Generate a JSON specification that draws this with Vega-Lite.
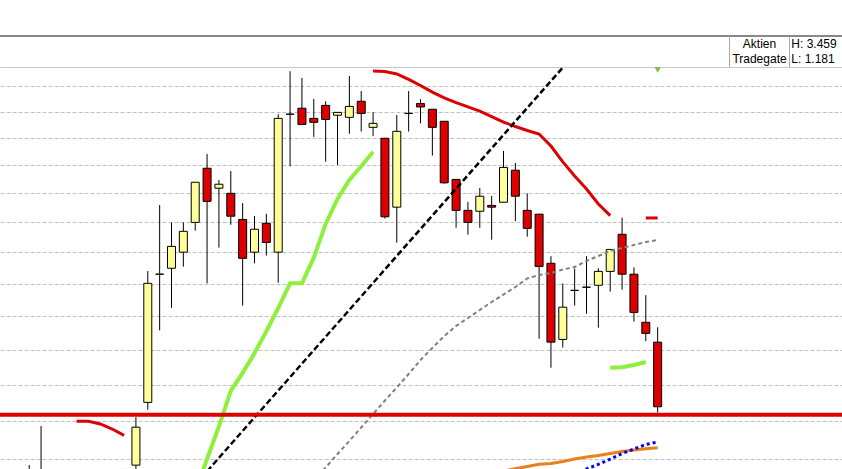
{
  "$schema": "https://vega.github.io/schema/vega-lite/v6.json",
  "background": "white",
  "padding": {"top": 35, "left": 0, "right": 0, "bottom": 0},
  "spacing": 0,
  "bounds": "flush",
  "config": {"view": {"stroke": null}, "font": "Liberation Sans"},
  "datasets": {
    "header": [
      {"row": 1, "src": "Aktien", "rng": "H: 3.459"},
      {"row": 2, "src": "Tradegate", "rng": "L: 1.181"}
    ],
    "candles": [
      {"k":0,"open":2.165,"high":2.185,"low":2.14,"close":2.155},
      {"k":1,"open":2.150,"high":2.287,"low":2.13,"close":2.165},
      {"k":8,"open":2.174,"high":2.174,"low":2.12,"close":2.15},
      {"k":9,"open":2.185,"high":2.311,"low":2.16,"close":2.284},
      {"k":10,"open":2.351,"high":2.740,"low":2.331,"close":2.701},
      {"k":11,"open":2.730,"high":2.959,"low":2.557,"close":2.730},
      {"k":12,"open":2.749,"high":2.900,"low":2.625,"close":2.820},
      {"k":13,"open":2.801,"high":2.900,"low":2.754,"close":2.870},
      {"k":14,"open":2.900,"high":3.039,"low":2.872,"close":3.039},
      {"k":15,"open":3.089,"high":3.141,"low":2.701,"close":2.972},
      {"k":16,"open":3.018,"high":3.047,"low":2.816,"close":3.032},
      {"k":17,"open":3.000,"high":3.079,"low":2.892,"close":2.921},
      {"k":18,"open":2.910,"high":2.966,"low":2.632,"close":2.781},
      {"k":19,"open":2.801,"high":2.922,"low":2.765,"close":2.877},
      {"k":20,"open":2.897,"high":2.929,"low":2.790,"close":2.833},
      {"k":21,"open":2.801,"high":3.290,"low":2.703,"close":3.274},
      {"k":22,"open":3.290,"high":3.459,"low":3.096,"close":3.290},
      {"k":23,"open":3.313,"high":3.432,"low":3.251,"close":3.251},
      {"k":24,"open":3.274,"high":3.349,"low":3.204,"close":3.259},
      {"k":25,"open":3.324,"high":3.340,"low":3.113,"close":3.270},
      {"k":26,"open":3.286,"high":3.297,"low":3.101,"close":3.297},
      {"k":27,"open":3.278,"high":3.440,"low":3.216,"close":3.320},
      {"k":28,"open":3.340,"high":3.380,"low":3.224,"close":3.293},
      {"k":29,"open":3.240,"high":3.298,"low":3.207,"close":3.255},
      {"k":30,"open":3.199,"high":3.199,"low":2.913,"close":2.919},
      {"k":31,"open":2.952,"high":3.287,"low":2.832,"close":3.225},
      {"k":32,"open":3.293,"high":3.380,"low":3.224,"close":3.293},
      {"k":33,"open":3.331,"high":3.348,"low":3.255,"close":3.318},
      {"k":34,"open":3.309,"high":3.309,"low":3.135,"close":3.240},
      {"k":35,"open":3.263,"high":3.263,"low":3.034,"close":3.037},
      {"k":36,"open":3.049,"high":3.049,"low":2.882,"close":2.941},
      {"k":37,"open":2.941,"high":2.970,"low":2.859,"close":2.900},
      {"k":38,"open":2.938,"high":3.019,"low":2.882,"close":2.990},
      {"k":39,"open":2.958,"high":2.991,"low":2.842,"close":2.952},
      {"k":40,"open":2.969,"high":3.152,"low":2.969,"close":3.092},
      {"k":41,"open":3.082,"high":3.108,"low":2.904,"close":2.990},
      {"k":42,"open":2.941,"high":3.000,"low":2.852,"close":2.880},
      {"k":43,"open":2.928,"high":2.928,"low":2.532,"close":2.755},
      {"k":44,"open":2.765,"high":2.788,"low":2.448,"close":2.522},
      {"k":45,"open":2.530,"high":2.701,"low":2.506,"close":2.627},
      {"k":46,"open":2.679,"high":2.748,"low":2.632,"close":2.679},
      {"k":47,"open":2.689,"high":2.788,"low":2.607,"close":2.689},
      {"k":48,"open":2.695,"high":2.749,"low":2.565,"close":2.739},
      {"k":49,"open":2.739,"high":2.810,"low":2.675,"close":2.810},
      {"k":50,"open":2.860,"high":2.916,"low":2.681,"close":2.730},
      {"k":51,"open":2.730,"high":2.752,"low":2.583,"close":2.611},
      {"k":52,"open":2.581,"high":2.664,"low":2.525,"close":2.548},
      {"k":53,"open":2.522,"high":2.566,"low":2.323,"close":2.339}
    ],
    "lines": [
      {"s":"red","seg":"a","k":4,"p":2.2997},
      {"s":"red","seg":"a","k":5,"p":2.2997},
      {"s":"red","seg":"a","k":6,"p":2.2925},
      {"s":"red","seg":"a","k":7,"p":2.2791},
      {"s":"red","seg":"a","k":8,"p":2.2624},
      {"s":"red","seg":"b","k":29,"p":3.460},
      {"s":"red","seg":"b","k":30,"p":3.458},
      {"s":"red","seg":"b","k":31,"p":3.448},
      {"s":"red","seg":"b","k":32,"p":3.426},
      {"s":"red","seg":"b","k":33,"p":3.402},
      {"s":"red","seg":"b","k":34,"p":3.376},
      {"s":"red","seg":"b","k":35,"p":3.353},
      {"s":"red","seg":"b","k":36,"p":3.335},
      {"s":"red","seg":"b","k":37,"p":3.318},
      {"s":"red","seg":"b","k":38,"p":3.302},
      {"s":"red","seg":"b","k":39,"p":3.281},
      {"s":"red","seg":"b","k":40,"p":3.260},
      {"s":"red","seg":"b","k":41,"p":3.243},
      {"s":"red","seg":"b","k":42,"p":3.228},
      {"s":"red","seg":"b","k":43,"p":3.215},
      {"s":"red","seg":"b","k":44,"p":3.170},
      {"s":"red","seg":"b","k":45,"p":3.112},
      {"s":"red","seg":"b","k":46,"p":3.061},
      {"s":"red","seg":"b","k":47,"p":3.015},
      {"s":"red","seg":"b","k":48,"p":2.963},
      {"s":"red","seg":"b","k":49,"p":2.923},
      {"s":"red","seg":"c","k":52,"p":2.915},
      {"s":"red","seg":"c","k":53,"p":2.915},
      {"s":"green","seg":"a","k":14,"p":2.118},
      {"s":"green","seg":"a","k":15,"p":2.2006},
      {"s":"green","seg":"a","k":16,"p":2.2860},
      {"s":"green","seg":"a","k":17,"p":2.3824},
      {"s":"green","seg":"a","k":18,"p":2.4332},
      {"s":"green","seg":"a","k":19,"p":2.4895},
      {"s":"green","seg":"a","k":20,"p":2.5544},
      {"s":"green","seg":"a","k":21,"p":2.6245},
      {"s":"green","seg":"a","k":22,"p":2.701},
      {"s":"green","seg":"a","k":23,"p":2.701},
      {"s":"green","seg":"a","k":24,"p":2.7830},
      {"s":"green","seg":"a","k":25,"p":2.8949},
      {"s":"green","seg":"a","k":26,"p":2.9802},
      {"s":"green","seg":"a","k":27,"p":3.0470},
      {"s":"green","seg":"a","k":28,"p":3.0964},
      {"s":"green","seg":"a","k":29,"p":3.1492},
      {"s":"green","seg":"b","k":49,"p":2.448},
      {"s":"green","seg":"b","k":50,"p":2.4491},
      {"s":"green","seg":"b","k":51,"p":2.4557},
      {"s":"green","seg":"b","k":52,"p":2.4643},
      {"s":"gray","seg":"a","k":24,"p":2.1450},
      {"s":"gray","seg":"a","k":25,"p":2.1790},
      {"s":"gray","seg":"a","k":26,"p":2.2136},
      {"s":"gray","seg":"a","k":27,"p":2.2474},
      {"s":"gray","seg":"a","k":28,"p":2.2831},
      {"s":"gray","seg":"a","k":29,"p":2.3193},
      {"s":"gray","seg":"a","k":30,"p":2.3561},
      {"s":"gray","seg":"a","k":31,"p":2.3921},
      {"s":"gray","seg":"a","k":32,"p":2.4301},
      {"s":"gray","seg":"a","k":33,"p":2.4701},
      {"s":"gray","seg":"a","k":34,"p":2.5049},
      {"s":"gray","seg":"a","k":35,"p":2.5402},
      {"s":"gray","seg":"a","k":36,"p":2.5700},
      {"s":"gray","seg":"a","k":37,"p":2.5941},
      {"s":"gray","seg":"a","k":38,"p":2.6184},
      {"s":"gray","seg":"a","k":39,"p":2.6429},
      {"s":"gray","seg":"a","k":40,"p":2.6661},
      {"s":"gray","seg":"a","k":41,"p":2.6896},
      {"s":"gray","seg":"a","k":42,"p":2.7164},
      {"s":"gray","seg":"a","k":43,"p":2.7275},
      {"s":"gray","seg":"a","k":44,"p":2.7338},
      {"s":"gray","seg":"a","k":45,"p":2.7450},
      {"s":"gray","seg":"a","k":46,"p":2.7530},
      {"s":"gray","seg":"a","k":47,"p":2.7724},
      {"s":"gray","seg":"a","k":48,"p":2.7886},
      {"s":"gray","seg":"a","k":49,"p":2.8049},
      {"s":"gray","seg":"a","k":50,"p":2.8147},
      {"s":"gray","seg":"a","k":51,"p":2.8246},
      {"s":"gray","seg":"a","k":52,"p":2.8345},
      {"s":"gray","seg":"a","k":53,"p":2.8411},
      {"s":"trend","seg":"a","k":14,"p":2.1355},
      {"s":"trend","seg":"a","k":46,"p":3.5289},
      {"s":"orange","seg":"a","k":40,"p":2.1701},
      {"s":"orange","seg":"a","k":41,"p":2.1760},
      {"s":"orange","seg":"a","k":42,"p":2.1816},
      {"s":"orange","seg":"a","k":43,"p":2.1872},
      {"s":"orange","seg":"a","k":44,"p":2.1892},
      {"s":"orange","seg":"a","k":45,"p":2.1943},
      {"s":"orange","seg":"a","k":46,"p":2.2007},
      {"s":"orange","seg":"a","k":47,"p":2.2059},
      {"s":"orange","seg":"a","k":48,"p":2.2097},
      {"s":"orange","seg":"a","k":49,"p":2.2149},
      {"s":"orange","seg":"a","k":50,"p":2.2201},
      {"s":"orange","seg":"a","k":51,"p":2.2239},
      {"s":"orange","seg":"a","k":52,"p":2.2273},
      {"s":"orange","seg":"a","k":53,"p":2.2299},
      {"s":"blue","seg":"a","k":46,"p":2.1626},
      {"s":"blue","seg":"a","k":47,"p":2.1752},
      {"s":"blue","seg":"a","k":48,"p":2.1872},
      {"s":"blue","seg":"a","k":49,"p":2.2007},
      {"s":"blue","seg":"a","k":50,"p":2.2149},
      {"s":"blue","seg":"a","k":51,"p":2.2265},
      {"s":"blue","seg":"a","k":52,"p":2.2383},
      {"s":"blue","seg":"a","k":53,"p":2.2448},
      {"s":"support","seg":"a","k":-3,"p":2.317},
      {"s":"support","seg":"a","k":70,"p":2.317}
    ],
    "signals": [
      {"k": 53, "p": 3.4641}
    ]
  },
  "vconcat": [
    {
      "width": 842,
      "height": 31,
      "data": {"name": "header"},
      "layer": [
        {
          "mark": {"type": "rule", "color": "#a8a8a8", "strokeWidth": 1},
          "encoding": {
            "x": {"datum": 58.75, "type": "quantitative", "scale": {"domain": [-2.041667, 68.125], "nice": false, "zero": false},
                  "axis": {"orient": "top", "title": null, "labels": false, "ticks": false, "grid": false, "domainColor": "#888888", "domainWidth": 2, "translate": 0}}
          }
        },
        {
          "mark": {"type": "rule", "color": "#a8a8a8", "strokeWidth": 1},
          "encoding": {"x": {"datum": 63.75, "type": "quantitative"}}
        },
        {
          "mark": {"type": "text", "align": "center", "baseline": "alphabetic", "fontSize": 12, "font": "Liberation Sans", "color": "#000000"},
          "encoding": {
            "x": {"datum": 61.25, "type": "quantitative"},
            "y": {"field": "row", "type": "ordinal", "scale": {"type": "point", "domain": [1, 2], "range": [12, 26.5], "padding": 0}, "axis": null},
            "text": {"field": "src"}
          }
        },
        {
          "mark": {"type": "text", "align": "left", "baseline": "alphabetic", "fontSize": 12, "font": "Liberation Sans", "color": "#000000"},
          "encoding": {
            "x": {"datum": 63.9, "type": "quantitative"},
            "y": {"field": "row", "type": "ordinal", "scale": {"type": "point", "domain": [1, 2], "range": [12, 26.5], "padding": 0}, "axis": null},
            "text": {"field": "rng"}
          }
        }
      ]
    },
    {
      "width": 842,
      "height": 403,
      "layer": [
        {
          "data": {"name": "candles"},
          "mark": {"type": "rule", "color": "#000000", "strokeWidth": 1, "clip": true},
          "encoding": {
            "x": {"field": "k", "type": "quantitative", "scale": {"domain": [-2.041667, 68.125], "nice": false, "zero": false},
                  "axis": {"orient": "top", "title": null, "labels": false, "ticks": false, "grid": false, "domainColor": "#c8c8c8"}},
            "y": {"field": "low", "type": "quantitative", "scale": {"type": "log", "domain": [2.172683, 3.47618], "nice": false},
                  "axis": {"title": null, "labels": false, "ticks": false, "domain": false, "grid": true, "values": [2.2, 2.3, 2.4, 2.5, 2.6, 2.7, 2.8, 2.9, 3.0, 3.1, 3.2, 3.3, 3.4], "gridColor": "#c0c0c0", "gridDash": [4, 2]}},
            "y2": {"field": "high"}
          }
        },
        {
          "data": {"name": "candles"},
          "mark": {"type": "bar", "size": 8, "stroke": "#000000", "strokeWidth": 1, "clip": true},
          "encoding": {
            "x": {"field": "k", "type": "quantitative"},
            "y": {"field": "open", "type": "quantitative"},
            "y2": {"field": "close"},
            "fill": {"condition": {"test": "datum.close >= datum.open", "value": "#ffff99"}, "value": "#dd0000"}
          }
        },
        {
          "data": {"name": "lines"},
          "transform": [{"filter": "datum.s == 'red'"}],
          "mark": {"type": "line", "color": "#dd0000", "strokeWidth": 3, "clip": true},
          "encoding": {"x": {"field": "k", "type": "quantitative"}, "y": {"field": "p", "type": "quantitative"}, "detail": {"field": "seg"}}
        },
        {
          "data": {"name": "lines"},
          "transform": [{"filter": "datum.s == 'green'"}],
          "mark": {"type": "line", "color": "#8cf03c", "strokeWidth": 4, "clip": true},
          "encoding": {"x": {"field": "k", "type": "quantitative"}, "y": {"field": "p", "type": "quantitative"}, "detail": {"field": "seg"}}
        },
        {
          "data": {"name": "lines"},
          "transform": [{"filter": "datum.s == 'gray'"}],
          "mark": {"type": "line", "color": "#808080", "strokeWidth": 2, "strokeDash": [4, 3], "clip": true},
          "encoding": {"x": {"field": "k", "type": "quantitative"}, "y": {"field": "p", "type": "quantitative"}}
        },
        {
          "data": {"name": "lines"},
          "transform": [{"filter": "datum.s == 'trend'"}],
          "mark": {"type": "line", "color": "#000000", "strokeWidth": 2.5, "strokeDash": [6, 3], "clip": true},
          "encoding": {"x": {"field": "k", "type": "quantitative"}, "y": {"field": "p", "type": "quantitative"}}
        },
        {
          "data": {"name": "lines"},
          "transform": [{"filter": "datum.s == 'orange'"}],
          "mark": {"type": "line", "color": "#e8811c", "strokeWidth": 3, "clip": true},
          "encoding": {"x": {"field": "k", "type": "quantitative"}, "y": {"field": "p", "type": "quantitative"}}
        },
        {
          "data": {"name": "lines"},
          "transform": [{"filter": "datum.s == 'blue'"}],
          "mark": {"type": "line", "color": "#0000ff", "strokeWidth": 3, "strokeDash": [3, 3], "clip": true},
          "encoding": {"x": {"field": "k", "type": "quantitative"}, "y": {"field": "p", "type": "quantitative"}}
        },
        {
          "data": {"name": "lines"},
          "transform": [{"filter": "datum.s == 'support'"}],
          "mark": {"type": "line", "color": "#dd0000", "strokeWidth": 4, "clip": true},
          "encoding": {"x": {"field": "k", "type": "quantitative"}, "y": {"field": "p", "type": "quantitative"}}
        },
        {
          "data": {"name": "signals"},
          "mark": {"type": "point", "shape": "triangle-down", "filled": true, "color": "#7cc243", "size": 40, "opacity": 1, "clip": true},
          "encoding": {"x": {"field": "k", "type": "quantitative"}, "y": {"field": "p", "type": "quantitative"}}
        }
      ]
    }
  ]
}
